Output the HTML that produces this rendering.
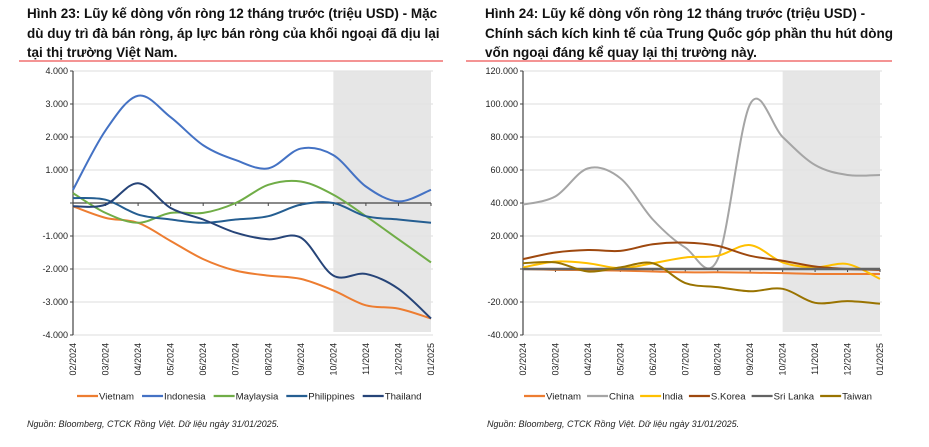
<!DOCTYPE html>
<html><head><meta charset="utf-8"><style>
body{margin:0;background:#fff;width:929px;height:447px;overflow:hidden}
svg{display:block;font-family:"Liberation Sans","Noto Sans CJK SC",sans-serif}
.t{font-weight:bold;font-size:13.5px;fill:#111}
.tk{font-size:9px;fill:#222}
.lg{font-size:9.6px;fill:#222}
.fn{font-size:9px;font-style:italic;fill:#222}
</style></head><body>
<svg id="s" width="929" height="447">
<g>
<text class="t" x="27" y="18">Hình 23: Lũy kế dòng vốn ròng 12 tháng trước (triệu USD) -  Mặc</text>
<text class="t" x="27" y="38">dù duy trì đà bán ròng, áp lực bán ròng của khối ngoại đã dịu lại</text>
<text class="t" x="27" y="57">tại thị trường Việt Nam.</text>
</g>
<g>
<text class="t" x="485" y="18">Hình 24: Lũy kế dòng vốn ròng 12 tháng trước (triệu USD) -</text>
<text class="t" x="485" y="38">Chính sách kích kinh tế của Trung Quốc góp phần thu hút dòng</text>
<text class="t" x="485" y="57">vốn ngoại đáng kể quay lại thị trường này.</text>
</g>
<line x1="19" y1="61" x2="443" y2="61" stroke="#f07070" stroke-width="1.5"/>
<line x1="466" y1="61" x2="892" y2="61" stroke="#f07070" stroke-width="1.5"/>
<text class="fn" x="27" y="427">Nguồn: Bloomberg, CTCK Rồng Việt. Dữ liệu ngày 31/01/2025.</text>
<text class="fn" x="487" y="427">Nguồn: Bloomberg, CTCK Rồng Việt. Dữ liệu ngày 31/01/2025.</text>
</svg>
<script>
const months=["02/2024","03/2024","04/2024","05/2024","06/2024","07/2024","08/2024","09/2024","10/2024","11/2024","12/2024","01/2025"];
const leftTicks=[4000,3000,2000,1000,0,-1000,-2000,-3000,-4000];
const leftTickLabels=["4.000","3.000","2.000","1.000","","-1.000","-2.000","-3.000","-4.000"];
const leftNames=["Vietnam","Indonesia","Maylaysia","Philippines","Thailand"];
const leftColors=["#ED7D31","#4472C4","#70AD47","#255E91","#264478"];
const lVietnam=[-100,-450,-600,-1150,-1700,-2050,-2200,-2300,-2650,-3100,-3200,-3500];
const lIndonesia=[400,2200,3250,2600,1750,1300,1050,1650,1450,500,50,400];
const lMalaysia=[300,-300,-600,-300,-300,0,550,650,250,-400,-1100,-1800];
const lPhilippines=[150,100,-350,-500,-600,-500,-400,-50,0,-400,-500,-600];
const lThailand=[-100,-50,600,-150,-500,-900,-1100,-1050,-2200,-2150,-2600,-3500];
const rightTicks=[120000,100000,80000,60000,40000,20000,0,-20000,-40000];
const rightTickLabels=["120.000","100.000","80.000","60.000","40.000","20.000","","-20.000","-40.000"];
const rightNames=["Vietnam","China","India","S.Korea","Sri Lanka","Taiwan"];
const rightColors=["#ED7D31","#A5A5A5","#FFC000","#9E480E","#636363","#997300"];
const rVietnam=[0,-500,-700,-1000,-1500,-2000,-2000,-2200,-2500,-3000,-3000,-3000];
const rChina=[39000,44000,61000,55000,30000,13000,6000,100000,80000,63000,57000,57000];
const rIndia=[1000,4500,3500,500,3500,7000,8000,14500,4000,1000,3000,-6000];
const rKorea=[6000,10000,11500,11000,15000,16000,14000,8000,5000,1500,0,-500];
const rSriLanka=[0,0,0,0,0,0,0,0,0,0,0,0];
const rTaiwan=[3500,4000,-1500,1000,3500,-8500,-11000,-13500,-12000,-20500,-19500,-21000];

const NS="http://www.w3.org/2000/svg";
const svg=document.getElementById('s');
function mk(tag,attrs,parent,text){const e=document.createElementNS(NS,tag);for(const k in attrs)e.setAttribute(k,attrs[k]);if(text!==undefined)e.textContent=text;(parent||svg).appendChild(e);return e;}
function smooth(pts){let d="M"+pts[0][0]+","+pts[0][1];for(let i=0;i<pts.length-1;i++){const p0=pts[Math.max(i-1,0)],p1=pts[i],p2=pts[i+1],p3=pts[Math.min(i+2,pts.length-1)];const c1x=p1[0]+(p2[0]-p0[0])/6,c1y=p1[1]+(p2[1]-p0[1])/6,c2x=p2[0]-(p3[0]-p1[0])/6,c2y=p2[1]-(p3[1]-p1[1])/6;d+=" C"+c1x+","+c1y+" "+c2x+","+c2y+" "+p2[0]+","+p2[1];}return d;}

function chart(cfg){
  const {x0,x1,yTop,yBot,vMax,vMin,ticks,tickLabels,series,names,colors,shadeStart,legendX,legendGaps,id}=cfg;
  const g=mk('g',{});
  
  
  const xs=i=>x0+(x1-x0)*i/(months.length-1);
  const ys=v=>yTop+(vMax-v)/(vMax-vMin)*(yBot-yTop);
  const sh=mk('rect',{x:xs(shadeStart),y:yTop,width:x1-xs(shadeStart),height:yBot-yTop-3,fill:'#e6e6e6'},g);
  
  
  ticks.forEach((t,i)=>{
    if(t!==0){const gl=mk('line',{x1:x0,x2:x1+2,y1:ys(t),y2:ys(t),stroke:'#e4e4e4','stroke-width':1.2},g);
      
      }
    mk('line',{x1:x0-3,x2:x0,y1:ys(t),y2:ys(t),stroke:'#444'},g);
    const tl=mk('text',{x:x0-5,y:ys(t)+3,'text-anchor':'end',class:'tk'},g,tickLabels[i]);
    
    
  });
  const ya=mk('line',{x1:x0,x2:x0,y1:yTop,y2:yBot,stroke:'#444','stroke-width':1.2},g);
  
  
  const xa=mk('line',{x1:x0,x2:x1,y1:ys(0),y2:ys(0),stroke:'#444','stroke-width':1.2},g);
  
  
  months.forEach((m,i)=>{
    mk('line',{x1:xs(i),x2:xs(i),y1:ys(0),y2:ys(0)+3,stroke:'#444'},g);
    const t=mk('text',{x:0,y:0,'text-anchor':'end',class:'tk',transform:`translate(${xs(i)+3},${yBot+8}) rotate(-90)`},g,m);
    
    
  });
  series.forEach((s,k)=>{
    const p=mk('path',{d:smooth(s.map((v,i)=>[xs(i),ys(v)])),fill:'none',stroke:colors[k],'stroke-width':names[k]==='Sri Lanka'?2.6:2},g);
    
    
  });
  let lx=legendX;
  names.forEach((n,k)=>{
    const le=mk('g',{},g);
    
    
    mk('line',{x1:lx,x2:lx+21,y1:396,y2:396,stroke:colors[k],'stroke-width':2.2},le);
    const t=mk('text',{x:lx+22,y:399.5,class:'lg'},le,n);
    lx+=22+t.getComputedTextLength()+legendGaps;
  });
}
chart({id:'left',x0:73,x1:431,yTop:71,yBot:335,vMax:4000,vMin:-4000,ticks:leftTicks,tickLabels:leftTickLabels,series:[lVietnam,lIndonesia,lMalaysia,lPhilippines,lThailand],names:leftNames,colors:leftColors,shadeStart:8,legendX:77,legendGaps:8});
chart({id:'right',x0:523,x1:880,yTop:71,yBot:335,vMax:120000,vMin:-40000,ticks:rightTicks,tickLabels:rightTickLabels,series:[rVietnam,rChina,rIndia,rKorea,rSriLanka,rTaiwan],names:rightNames,colors:rightColors,shadeStart:8,legendX:524,legendGaps:6});
</script>
</body></html>
